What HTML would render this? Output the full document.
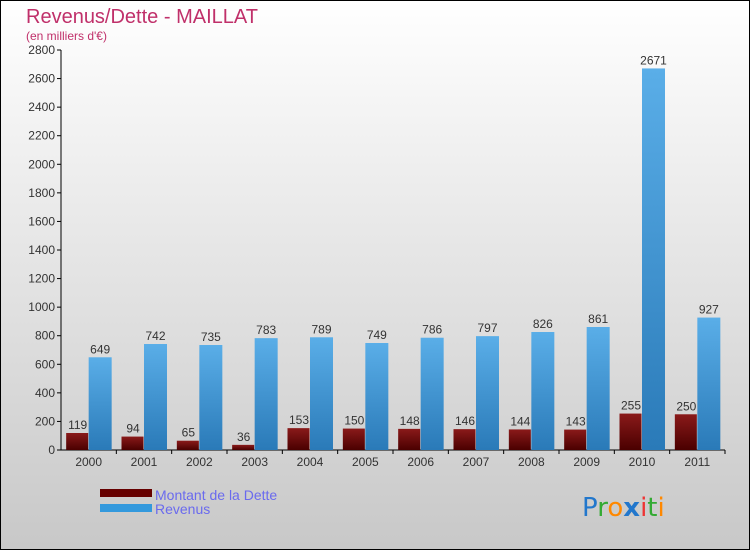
<!DOCTYPE html>
<html><head><meta charset="utf-8"><style>
body{margin:0;padding:0}
svg{display:block;font-family:"Liberation Sans",sans-serif}
</style></head><body>
<svg id="c" width="750" height="550" viewBox="0 0 750 550" xmlns="http://www.w3.org/2000/svg">
<defs>
<linearGradient id="bg" x1="0" y1="0" x2="0" y2="1"><stop offset="0" stop-color="#ffffff"/><stop offset="1" stop-color="#c8c8c8"/></linearGradient>
<linearGradient id="gb" x1="0" y1="0" x2="0" y2="1"><stop offset="0" stop-color="#5aaee8"/><stop offset="1" stop-color="#2a7ab8"/></linearGradient>
<linearGradient id="gr" x1="0" y1="0" x2="0" y2="1"><stop offset="0" stop-color="#8a1a1a"/><stop offset="1" stop-color="#4a0000"/></linearGradient>
</defs>
<rect x="0.5" y="0.5" width="749" height="549" fill="url(#bg)" stroke="#000"/>
<text x="26" y="23" font-size="20" fill="#c0306a">Revenus/Dette - MAILLAT</text>
<text x="26" y="40" font-size="12" fill="#c0306a">(en milliers d'€)</text>
<g id="axes"></g>
<g id="bars"></g>
<rect x="100" y="489" width="52" height="8" fill="#660000"/>
<text x="155" y="500" font-size="14" fill="#6a6aee">Montant de la Dette</text>
<rect x="100" y="504" width="52" height="8" fill="#3399dd"/>
<text x="155" y="514" font-size="14" fill="#6a6aee">Revenus</text>
<g font-size="26" font-family="'DejaVu Sans',sans-serif">
<text x="582" y="516"><tspan fill="#2277cc">P</tspan><tspan fill="#33aa33">r</tspan><tspan fill="#ff8800">o</tspan><tspan fill="#2277cc" font-weight="bold">x</tspan><tspan fill="#ee3333">i</tspan><tspan fill="#33aa33">t</tspan><tspan fill="#ff8800">i</tspan></text>
</g>
</svg>
<script>
const years=["2000","2001","2002","2003","2004","2005","2006","2007","2008","2009","2010","2011"];
const dette=[119,94,65,36,153,150,148,146,144,143,255,250];
const revenus=[649,742,735,783,789,749,786,797,826,861,2671,927];
const yTicks=[0,200,400,600,800,1000,1200,1400,1600,1800,2000,2200,2400,2600,2800];
const NS="http://www.w3.org/2000/svg";
const x0=61,x1=725,yb=450,yt=50,ymax=2800;
const band=(x1-x0)/years.length;
const y=v=>yb-(v/ymax)*(yb-yt);
const cx=i=>x0+band*(i+0.5);
function mk(t,a,p){const e=document.createElementNS(NS,t);for(const k in a)e.setAttribute(k,a[k]);p.appendChild(e);return e;}
const ax=document.getElementById('axes'),bg=document.getElementById('bars');
const yl=mk('line',{x1:x0,y1:yt,x2:x0,y2:yb,stroke:'#000'},ax);


const xl=mk('line',{x1:x0,y1:yb,x2:x1,y2:yb,stroke:'#000'},ax);


yTicks.forEach(v=>{
 mk('line',{x1:x0-4,x2:x0,y1:y(v),y2:y(v),stroke:'#000'},ax);
 const t=mk('text',{x:x0-6,y:y(v)+4,'font-size':12,fill:'#333','text-anchor':'end'},ax);
 t.textContent=v;
 
 
});
years.forEach((yr,i)=>{
 const c=cx(i);
 mk('line',{x1:x0+band*(i+1),x2:x0+band*(i+1),y1:yb,y2:yb+4,stroke:'#000'},ax);
 const t=mk('text',{x:c,y:yb+16,'font-size':12,fill:'#333','text-anchor':'middle'},ax);
 t.textContent=yr;
 
 
 const r1=mk('rect',{x:c-22.5,y:y(dette[i]),width:22,height:yb-y(dette[i]),fill:'url(#gr)'},bg);
 
 
 const r2=mk('rect',{x:c,y:y(revenus[i]),width:23,height:yb-y(revenus[i]),fill:'url(#gb)'},bg);
 
 
 const l1=mk('text',{x:c-11,y:y(dette[i])-4,'font-size':12,fill:'#333','text-anchor':'middle'},bg);
 l1.textContent=dette[i];
 
 
 const l2=mk('text',{x:c+11.5,y:y(revenus[i])-4,'font-size':12,fill:'#333','text-anchor':'middle'},bg);
 l2.textContent=revenus[i];
 
 
});
</script>
</body></html>
